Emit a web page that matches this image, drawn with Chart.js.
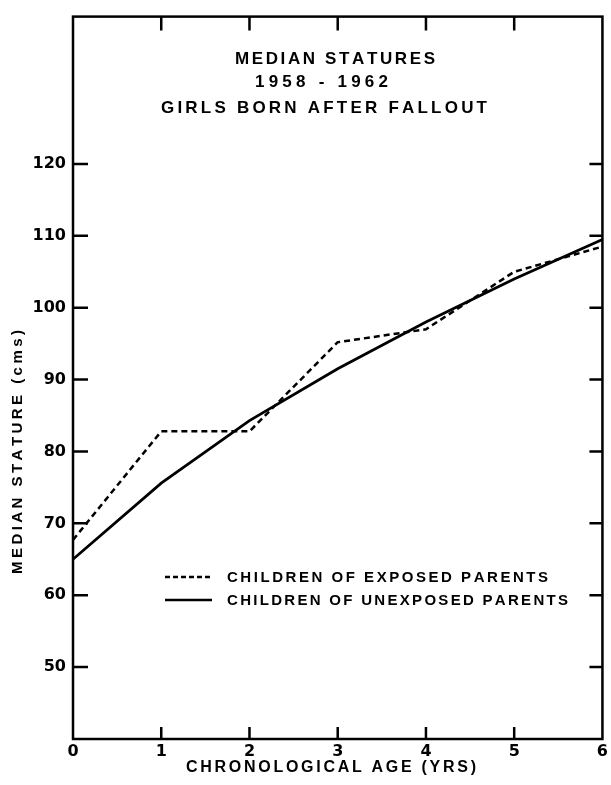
<!DOCTYPE html>
<html><head><meta charset="utf-8">
<script src="https://cdn.jsdelivr.net/npm/chart.js@4.4.1/dist/chart.umd.min.js"></script>
<style>html,body{margin:0;padding:0;background:#fff;}#wrap{width:611px;height:785px;position:relative;}</style>
</head><body><div id="wrap"><canvas id="c" width="611" height="785"></canvas></div>
<script>
const ages = [0, 1, 2, 3, 4, 5, 6];
const exposedStature = [67.7, 82.8, 82.8, 95.2, 97.0, 105.0, 108.5];
const unexposedStature = [65.0, 75.6, 84.3, 91.5, 98.0, 104.0, 109.5];
const ageTicks = [0, 1, 2, 3, 4, 5, 6];
const statureTicks = [50, 60, 70, 80, 90, 100, 110, 120];
const titleLines = ['MEDIAN STATURES', '1958 - 1962', 'GIRLS BORN AFTER FALLOUT'];
const seriesNames = ['CHILDREN OF EXPOSED PARENTS', 'CHILDREN OF UNEXPOSED PARENTS'];
const xTitle = 'CHRONOLOGICAL AGE (YRS)';
const yTitle = 'MEDIAN STATURE (cms)';

const FAM = "'Liberation Sans', Arial, sans-serif";
const TICKFAM = "'DejaVu Sans', sans-serif";

// draw text stretched with letter spacing so it spans from x0 to x1
function drawFit(ctx, text, x0, x1, y) {
  const chars = Array.from(text);
  let w = 0;
  chars.forEach(ch => { w += ctx.measureText(ch).width; });
  const sp = chars.length > 1 ? (x1 - x0 - w) / (chars.length - 1) : 0;
  ctx.textAlign = 'left';
  let cx = x0;
  chars.forEach(ch => { ctx.fillText(ch, cx, y); cx += ctx.measureText(ch).width + sp; });
}

const decor = {
  id: 'decor',
  afterDatasetsDraw(chart) {
    const {ctx, chartArea: {left, right, top, bottom}, scales: {x, y}} = chart;
    ctx.save();
    ctx.strokeStyle = '#000';
    ctx.fillStyle = '#000';
    ctx.setLineDash([]);
    ctx.lineWidth = 2.5;
    ctx.strokeRect(left, top, right - left, bottom - top);
    ctx.beginPath();
    statureTicks.forEach(v => {
      const py = y.getPixelForValue(v);
      ctx.moveTo(left, py); ctx.lineTo(left + 15, py);
      ctx.moveTo(right - 13, py); ctx.lineTo(right, py);
    });
    ageTicks.slice(1, -1).forEach(v => {
      const px = x.getPixelForValue(v);
      ctx.moveTo(px, bottom); ctx.lineTo(px, bottom - 12);
      ctx.moveTo(px, top); ctx.lineTo(px, top + 14);
    });
    ctx.stroke();

    ctx.textBaseline = 'middle';
    // in-plot title
    ctx.font = 'bold 17px ' + FAM;
    drawFit(ctx, titleLines[0], 235, 435, 59);
    drawFit(ctx, titleLines[1], 255, 388, 82);
    drawFit(ctx, titleLines[2], 161, 487, 108);

    // legend
    const rows = [577, 600];
    const ends = [548, 568];
    ctx.font = 'bold 15px ' + FAM;
    chart.data.datasets.forEach((ds, i) => {
      ctx.lineWidth = 2.5;
      ctx.setLineDash(i === 0 ? [5, 3] : []);
      ctx.beginPath();
      ctx.moveTo(165, rows[i]); ctx.lineTo(212, rows[i]);
      ctx.stroke();
      ctx.setLineDash([]);
      drawFit(ctx, ds.label, 227, ends[i], rows[i] + 1);
    });

    // axis titles
    ctx.font = 'bold 16px ' + FAM;
    drawFit(ctx, xTitle, 186, 476, 768);
    ctx.font = 'bold 15px ' + FAM;
    ctx.save();
    ctx.translate(18, 452);
    ctx.rotate(-Math.PI / 2);
    drawFit(ctx, yTitle, -122, 122, 0);
    ctx.restore();
    ctx.restore();
  }
};

new Chart(document.getElementById('c'), {
  type: 'line',
  data: {
    datasets: [
      {
        label: seriesNames[0],
        data: ages.map((a, i) => ({x: a, y: exposedStature[i]})),
        borderColor: '#000', borderWidth: 2.5, borderDash: [6, 4],
        pointRadius: 0, tension: 0, fill: false
      },
      {
        label: seriesNames[1],
        data: ages.map((a, i) => ({x: a, y: unexposedStature[i]})),
        borderColor: '#000', borderWidth: 2.8,
        pointRadius: 0, tension: 0, fill: false
      }
    ]
  },
  options: {
    responsive: false,
    animation: false,
    layout: {padding: {left: 0, top: 14, right: 6, bottom: 0}},
    plugins: {legend: {display: false}, title: {display: false}, tooltip: {enabled: false}},
    scales: {
      x: {
        type: 'linear', min: 0, max: 6,
        afterBuildTicks: s => { s.ticks = ageTicks.map(v => ({value: v})); },
        afterFit: s => { s.height = 46; },
        grid: {display: false, drawTicks: false},
        border: {display: false},
        ticks: {color: '#000', padding: 3, autoSkip: false, maxRotation: 0,
                font: {family: TICKFAM, size: 16, weight: 'bold'},
                callback: v => String(v)}
      },
      y: {
        type: 'linear', min: 40, max: 140.5,
        afterBuildTicks: s => { s.ticks = statureTicks.map(v => ({value: v})); },
        afterFit: s => { s.width = 73; },
        grid: {display: false, drawTicks: false},
        border: {display: false},
        ticks: {color: '#000', padding: 7, autoSkip: false,
                font: {family: TICKFAM, size: 16, weight: 'bold'},
                callback: v => String(v)}
      }
    }
  },
  plugins: [decor]
});
</script>
</body></html>
